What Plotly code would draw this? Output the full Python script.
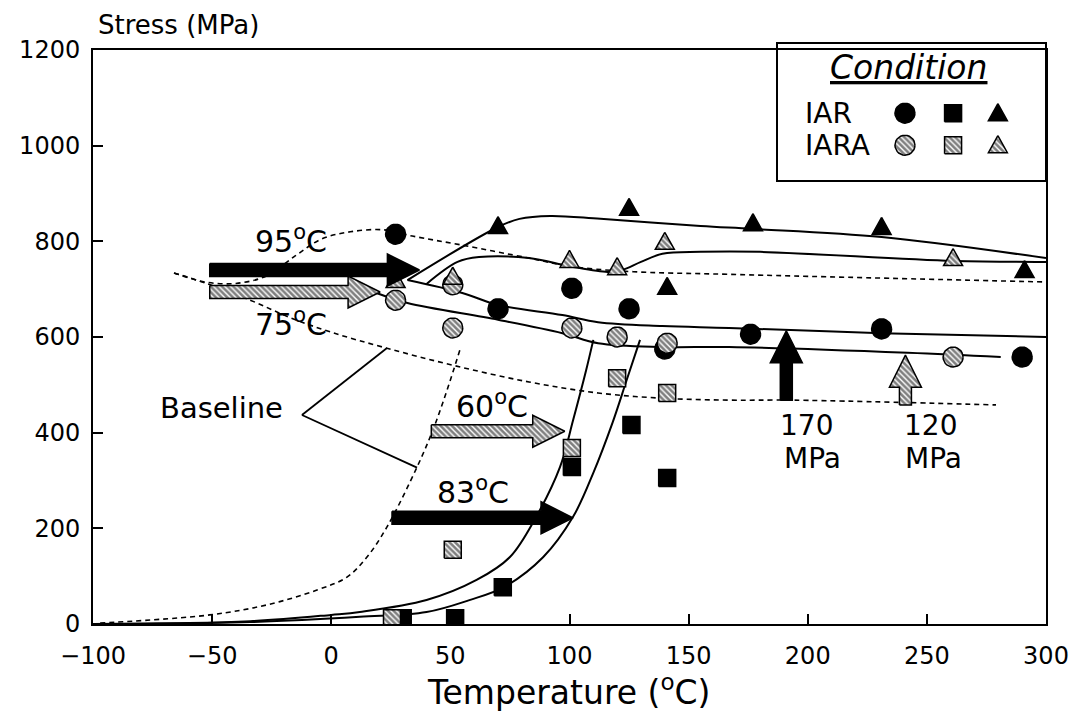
import math
import plotly.graph_objects as go

# ---------------- axes ----------------
X_RANGE = [-100, 300]
Y_RANGE = [0, 1200]
x_ticks = [-100, -50, 0, 50, 100, 150, 200, 250, 300]
y_ticks = [0, 200, 400, 600, 800, 1000, 1200]

# ---------------- measured points ----------------
iar_circle_x = [27, 70, 101, 140, 125, 176, 231, 290]
iar_circle_y = [815, 659, 702, 575, 659, 606, 617, 558]
iara_circle_x = [27, 51, 51, 101, 120, 141, 261]
iara_circle_y = [677, 619, 709, 619, 600, 587, 558]
iar_square_x = [30, 52, 72, 101, 126, 141]
iar_square_y = [12, 12, 77, 328, 416, 305]
iara_square_x = [25.5, 51, 101, 120, 141]
iara_square_y = [12, 155, 368, 514, 483]
iar_tri_x = [70, 125, 141, 177, 231, 291]
iar_tri_y = [832, 870, 705, 838, 830, 740]
iara_tri_x = [27, 51, 100, 120, 140, 261]
iara_tri_y = [719, 726, 761, 746, 799, 765]

# ---------------- fitted curves ----------------
a_x = [32, 70, 79, 92, 113, 155, 177, 231, 300]
a_y = [719, 830, 847, 853, 847, 832, 826, 809, 765]
b_x = [40, 53, 62, 83, 100, 116, 122, 130, 139, 155, 180, 261, 300]
b_y = [711, 757, 767, 765, 748, 736, 740, 757, 774, 778, 778, 759, 757]
c_x = [32, 55, 70, 97, 112, 139, 167, 231, 300]
c_y = [719, 692, 667, 646, 631, 623, 619, 608, 600]
d_x = [19, 32, 70, 97, 112, 139, 167, 242, 281]
d_y = [692, 671, 636, 608, 587, 579, 579, 567, 558]
g_x = [-100, -34, 0, 12, 40, 61, 75, 86, 96, 101.5, 107, 110]
g_y = [0, 6, 19, 25, 50, 92, 140, 224, 328, 426, 531, 594]
h_x = [-100, -34, 12, 40, 58, 72.5, 89, 101.5, 110, 118, 124, 129.6]
h_y = [0, 4, 15, 25, 50, 77, 140, 224, 316, 420, 510, 594]

# baselines (dashed)
e_x = [-66, -53, -40, -27, -15, -4, 8, 22, 34, 55, 83, 100, 125, 167, 300]
e_y = [734, 715, 712, 728, 770, 805, 820, 824, 811, 792, 765, 748, 737, 731, 715]
f_x = [-66, -53, -34, -17, 0, 23, 51, 83, 112, 139, 167, 194, 279]
f_y = [734, 713, 677, 640, 610, 577, 541, 506, 483, 472, 468, 468, 458]
i_x = [-97, -51, -27, -6, 6.6, 15, 23.4, 36, 42.7, 48.6, 54]
i_y = [2, 19, 40, 71, 98, 140, 203, 328, 406, 489, 573]

# ---------------- block arrows (temperature / stress markers) ----------------
h_arrow_tail = [-51, -51, 42, 25.5]
h_arrow_tip = [37, 20.5, 98, 101.5]
h_arrow_y = [740, 694, 403, 222]
h_arrow_hatched = [False, True, True, False]
v_arrow_x = [191, 241]
v_arrow_base = [468, 458]
v_arrow_tip = [613, 562]
v_arrow_hatched = [False, True]

# ---------------- labels ----------------
label_text = ["95<sup>o</sup>C", "75<sup>o</sup>C", "60<sup>o</sup>C", "83<sup>o</sup>C"]
label_x = [-17, -17, 67.5, 59.5]
label_y = [803, 631, 458, 280]
stress_text = ["170", "MPa", "120", "MPa"]
stress_x = [187.5, 189, 239.5, 240]
stress_y = [416, 347, 416, 347]
baseline_vertex = (-12.3, 437)
baseline_ends = [(23.4, 577), (36, 327)]

legend_rows = ["IAR", "IARA"]
legend_row_y = [1068, 1001]
legend_marker_x = [240.8, 261, 279.8]

# ---------------- geometry ----------------
W, H = 1081, 722
ML, MR, MT, MB = 93, 35, 50, 98
PW, PH = W - ML - MR, H - MT - MB
PX_X = PW / (X_RANGE[1] - X_RANGE[0])
PX_Y = PH / (Y_RANGE[1] - Y_RANGE[0])
FONT = "DejaVu Sans"


def poly_circle(cx, cy, r=10):
    xs, ys = [], []
    for k in range(29):
        t = 2 * math.pi * k / 28
        xs.append(cx + r * math.cos(t) / PX_X)
        ys.append(cy + r * math.sin(t) / PX_Y)
    return xs, ys


def poly_square(cx, cy, s=8.5):
    pts = [(-s, -s), (s, -s), (s, s), (-s, s), (-s, -s)]
    return [cx + p[0] / PX_X for p in pts], [cy + p[1] / PX_Y for p in pts]


def poly_tri(cx, cy):
    pts = [(0, 9.5), (9.5, -7.5), (-9.5, -7.5), (0, 9.5)]
    return [cx + p[0] / PX_X for p in pts], [cy + p[1] / PX_Y for p in pts]


def combine(func, xs, ys):
    ox, oy = [], []
    for x, y in zip(xs, ys):
        px, py = func(x, y)
        ox += px + [None]
        oy += py + [None]
    return ox, oy


HATCH = dict(shape="\\", fgcolor="black", bgcolor="white", size=4, solidity=0.65)


def filled(px, py, hatched):
    kw = dict(x=px, y=py, mode="lines", fill="toself",
              line=dict(color="black", width=1.5), showlegend=False, hoverinfo="skip")
    if hatched:
        kw["fillcolor"] = "white"
        kw["fillpattern"] = HATCH
    else:
        kw["fillcolor"] = "black"
    return go.Scatter(**kw)


def marker_trace(func, xs, ys, hatched):
    px, py = combine(func, xs, ys)
    return filled(px, py, hatched)


def h_arrow(tail, tip, y, shaft=6.5, head=16, hl=32):
    hx = tip - hl / PX_X
    pts_x = [tail, hx, hx, tip, hx, hx, tail, tail]
    pts_y = [y + shaft / PX_Y, y + shaft / PX_Y, y + head / PX_Y, y,
             y - head / PX_Y, y - shaft / PX_Y, y - shaft / PX_Y, y + shaft / PX_Y]
    return pts_x, pts_y


def v_arrow(x, base, tip, shaft=6, head=16, hl=32):
    hy = tip - hl / PX_Y
    pts_y = [base, hy, hy, tip, hy, hy, base, base]
    pts_x = [x - shaft / PX_X, x - shaft / PX_X, x - head / PX_X, x,
             x + head / PX_X, x + shaft / PX_X, x + shaft / PX_X, x - shaft / PX_X]
    return pts_x, pts_y


fig = go.Figure()

# curves
for cx, cy in [(a_x, a_y), (b_x, b_y), (c_x, c_y), (d_x, d_y), (g_x, g_y), (h_x, h_y)]:
    fig.add_trace(go.Scatter(x=cx, y=cy, mode="lines", line=dict(color="black", width=2, shape="spline"),
                             showlegend=False, hoverinfo="skip"))
for cx, cy in [(e_x, e_y), (f_x, f_y), (i_x, i_y)]:
    fig.add_trace(go.Scatter(x=cx, y=cy, mode="lines",
                             line=dict(color="black", width=1.6, shape="spline", dash="5px,4px"),
                             showlegend=False, hoverinfo="skip"))

# data markers
fig.add_trace(marker_trace(poly_circle, iar_circle_x, iar_circle_y, False))
fig.add_trace(marker_trace(poly_square, iar_square_x, iar_square_y, False))
fig.add_trace(marker_trace(poly_tri, iar_tri_x, iar_tri_y, False))
fig.add_trace(marker_trace(poly_circle, iara_circle_x, iara_circle_y, True))
fig.add_trace(marker_trace(poly_square, iara_square_x, iara_square_y, True))
fig.add_trace(marker_trace(poly_tri, iara_tri_x, iara_tri_y, True))

# arrows
for tail, tip, y, hat in zip(h_arrow_tail, h_arrow_tip, h_arrow_y, h_arrow_hatched):
    fig.add_trace(filled(*h_arrow(tail, tip, y), hat))
for x, base, tip, hat in zip(v_arrow_x, v_arrow_base, v_arrow_tip, v_arrow_hatched):
    fig.add_trace(filled(*v_arrow(x, base, tip), hat))

# legend markers
lx_c, lx_s, lx_t = legend_marker_x
for row_y, hat in zip(legend_row_y, [False, True]):
    fig.add_trace(marker_trace(poly_circle, [lx_c], [row_y], hat))
    fig.add_trace(marker_trace(poly_square, [lx_s], [row_y], hat))
    fig.add_trace(marker_trace(poly_tri, [lx_t], [row_y], hat))

annotations = []
for t, x, y in zip(label_text, label_x, label_y):
    annotations.append(dict(x=x, y=y, text=t, showarrow=False, xanchor="center", yanchor="middle",
                            font=dict(family=FONT, size=30, color="black")))
for t, x, y in zip(stress_text, stress_x, stress_y):
    annotations.append(dict(x=x, y=y, text=t, showarrow=False, xanchor="left", yanchor="middle",
                            font=dict(family=FONT, size=28, color="black")))
annotations.append(dict(x=-45.9, y=452, text="Baseline", showarrow=False, xanchor="center", yanchor="middle",
                        font=dict(family=FONT, size=29, color="black")))
for t, y in zip(legend_rows, legend_row_y):
    annotations.append(dict(x=198, y=y, text=t, xanchor="left", yanchor="middle", showarrow=False,
                            font=dict(family=FONT, size=28, color="black")))
annotations.append(dict(xref="paper", yref="paper", x=(908 - ML) / PW, y=1 - (68 - MT) / PH,
                        xanchor="center", yanchor="middle",
                        text="<i><u>Condition</u></i>", showarrow=False,
                        font=dict(family=FONT, size=33, color="black")))
annotations.append(dict(xref="paper", yref="paper", x=(568 - ML) / PW, y=-(690 - (MT + PH)) / PH,
                        xanchor="center", yanchor="middle",
                        text="Temperature (<sup>o</sup>C)", showarrow=False,
                        font=dict(family=FONT, size=33, color="black")))
annotations.append(dict(xref="paper", yref="paper", x=(178 - ML) / PW, y=1 + (MT - 25) / PH,
                        xanchor="center", yanchor="middle",
                        text="Stress (MPa)", showarrow=False,
                        font=dict(family=FONT, size=26, color="black")))

shapes = [dict(type="rect", xref="paper", yref="paper",
               x0=(777 - ML) / PW, x1=1.0, y0=1 - (181 - MT) / PH, y1=1 + (MT - 43) / PH,
               line=dict(color="black", width=2), fillcolor="white", layer="below")]
for ex, ey in baseline_ends:
    shapes.append(dict(type="line", x0=baseline_vertex[0], y0=baseline_vertex[1], x1=ex, y1=ey,
                       line=dict(color="black", width=1.8), layer="above"))

fig.update_layout(
    width=W, height=H,
    margin=dict(l=ML, r=MR, t=MT, b=MB),
    paper_bgcolor="white", plot_bgcolor="rgba(0,0,0,0)",
    annotations=annotations, shapes=shapes,
    showlegend=False,
)
fig.update_xaxes(range=X_RANGE, tickvals=x_ticks, ticks="inside", ticklen=10, tickwidth=1.5,
                 tickcolor="black", showline=True, linecolor="black", linewidth=2, mirror=True,
                 showgrid=False, zeroline=False, ticklabelstandoff=9,
                 tickfont=dict(family=FONT, size=24, color="black"))
fig.update_yaxes(range=Y_RANGE, tickvals=y_ticks, ticks="inside", ticklen=10, tickwidth=1.5,
                 tickcolor="black", showline=True, linecolor="black", linewidth=2, mirror=True,
                 showgrid=False, zeroline=False, ticklabelstandoff=6,
                 tickfont=dict(family=FONT, size=24, color="black"))

fig.write_html("out.html", config={"displayModeBar": False},
               post_script="document.body.style.margin='0';")
